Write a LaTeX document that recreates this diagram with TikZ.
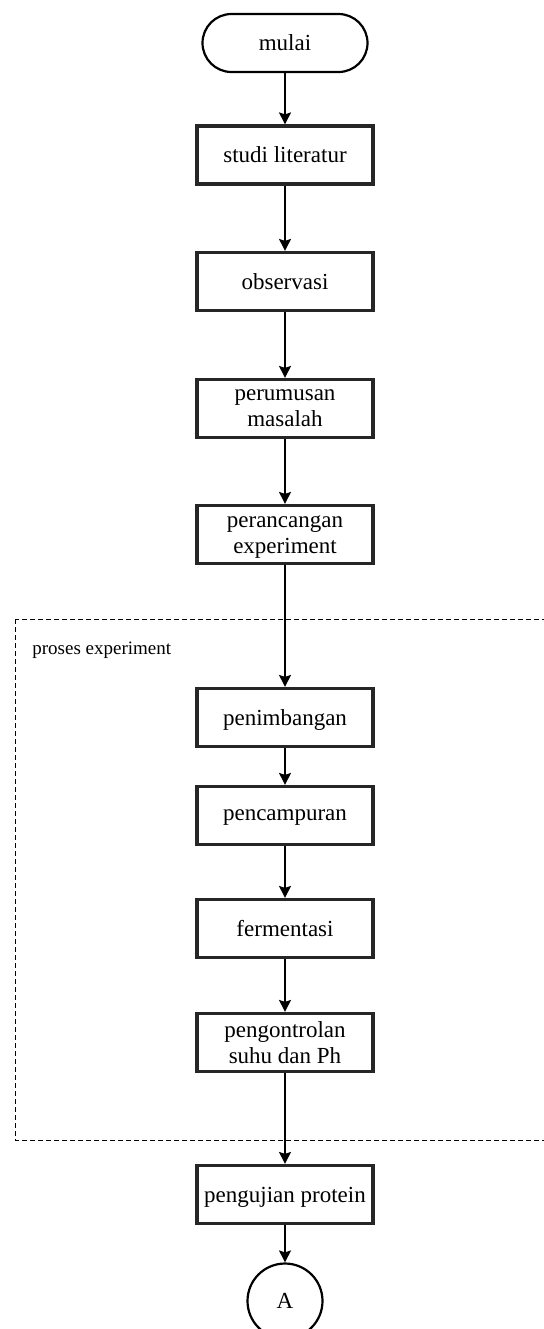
\documentclass[tikz,border=0pt]{standalone}
\usepackage{fontspec}
\setmainfont{Liberation Serif}
\usetikzlibrary{arrows.meta}
\begin{document}
\begin{tikzpicture}[x=0.5pt,y=-0.5pt,
  proc/.style={draw=black!85,line width=1.6pt,fill=white,minimum width=88pt,minimum height=29pt,
    align=center,font=\fontsize{11.5}{13}\selectfont,inner sep=2pt,text depth=0pt},
  term/.style={draw=black,line width=1.1pt,rounded corners=14.5pt,minimum width=82.5pt,minimum height=29pt,
    font=\fontsize{11.5}{13}\selectfont},
  conn/.style={draw=black,line width=1.1pt,circle,minimum size=37.5pt,font=\fontsize{11.5}{13}\selectfont,inner sep=0pt},
  arr/.style={-{Stealth[length=6pt,width=6pt,inset=1pt]},line width=0.8pt},
  group/.style={draw=black,line width=0.5pt,dash pattern=on 2.5pt off 1.5pt}]
\useasboundingbox (0,0) rectangle (544,1329);
\fill[white] (0,0) rectangle (544,1329);
% group box
\draw[group] (15,619) rectangle (560,1140);
\node[anchor=west,font=\fontsize{9.5}{11}\selectfont,inner sep=0pt] (lbl) at (32,650) {proses experiment};
% nodes
\node[term] (mulai) at (285,43) {mulai};
\node[proc] (studi) at (285,155) {studi literatur};
\node[proc] (obs) at (285,281.5) {observasi};
\node[proc] (rumus) at (285,408.5) {perumusan\\masalah};
\node[proc] (rancang) at (285,534.5) {perancangan\\experiment};
\node[proc] (timbang) at (285,717.5) {penimbangan};
\node[proc] (campur) at (285,815.5) {pencampuran};
\node[proc] (ferm) at (285,928.5) {fermentasi};
\node[proc] (kontrol) at (285,1042.5) {pengontrolan\\suhu dan Ph};
\node[proc] (uji) at (285,1194.5) {pengujian protein};
\node[conn] (A) at (285,1301) {A};
% arrows
\draw[arr] (mulai) -- (studi);
\draw[arr] (studi) -- (obs);
\draw[arr] (obs) -- (rumus);
\draw[arr] (rumus) -- (rancang);
\draw[arr] (rancang) -- (timbang);
\draw[arr] (timbang) -- (campur);
\draw[arr] (campur) -- (ferm);
\draw[arr] (ferm) -- (kontrol);
\draw[arr] (kontrol) -- (uji);
\draw[arr] (uji) -- (A);
\end{tikzpicture}
\end{document}
